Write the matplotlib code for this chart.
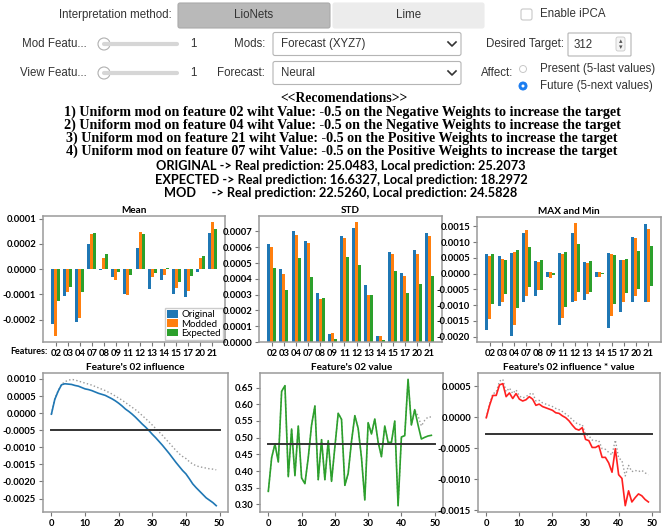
import numpy as np
import matplotlib.pyplot as plt
from matplotlib.patches import FancyBboxPatch, Circle
from matplotlib.ticker import FormatStrFormatter, FixedLocator, FixedFormatter

W, H = 662, 529

features = ['02', '03', '04', '07', '08', '09', '11', '12', '13', '14', '15', '17', '20', '21']

# mean (x 1e-4)
mean_original = [-2.17, -1.05, -2.10, 0.99, -0.03, -0.30, -0.99, 0.83, -0.79, -0.41, -0.99, -1.09, -0.10, 1.42]
mean_modded = [-2.66, -0.92, -1.93, 1.41, 0.46, -0.43, -1.01, 1.49, -0.30, -0.24, -0.75, -0.88, 0.46, 1.88]
mean_expected = [-1.25, -0.72, -0.92, 1.45, 0.62, -0.10, -0.24, 1.38, -0.17, 0.04, -0.49, -0.28, 0.53, 1.58]
mean_tick_pos = [2, 1, 0, -1, -2]
mean_tick_labels = ['0.0001', '0.0002', '0.0000', '-0.0001', '-0.0002']

# std (x 1e-4)
std_original = [6.2, 4.6, 7.0, 6.4, 3.1, 0.5, 6.7, 7.2, 3.6, 0.4, 5.7, 4.4, 5.8, 6.9]
std_modded = [6.0, 4.3, 6.8, 6.3, 2.7, 0.6, 6.6, 7.6, 3.0, 0.35, 5.6, 4.2, 5.6, 6.7]
std_expected = [4.7, 3.3, 5.3, 4.1, 2.8, 0.2, 5.4, 4.9, 3.0, 0.1, 4.5, 3.1, 3.7, 4.2]

# max / min (x 1e-3)
max_original = [0.62, 0.56, 0.67, 1.30, 0.39, 0.05, 0.66, 1.28, 0.37, 0.05, 0.65, 0.45, 1.15, 1.57]
min_original = [-1.78, -1.03, -1.99, -0.89, -0.70, -0.10, -1.62, -0.91, -0.84, -0.10, -1.73, -1.23, -0.91, -0.89]
max_modded = [0.55, 0.47, 0.70, 1.38, 0.37, 0.05, 0.63, 1.62, 0.34, 0.05, 0.62, 0.45, 1.12, 1.41]
min_modded = [-1.45, -0.91, -1.62, -0.71, -0.52, -0.13, -1.42, -0.87, -0.63, -0.09, -1.33, -0.91, -0.70, -0.89]
max_expected = [0.63, 0.44, 0.75, 0.84, 0.45, 0.01, 0.70, 0.94, 0.40, 0.01, 0.58, 0.46, 0.71, 0.89]
min_expected = [-0.97, -0.65, -1.08, -0.42, -0.52, -0.03, -1.05, -0.58, -0.58, -0.02, -0.96, -0.61, -0.49, -0.39]

# feature 02 influence (x 1e-3)
influence = [-0.03, 0.40, 0.64, 0.83, 0.86, 0.85, 0.84, 0.81, 0.79, 0.75,
             0.71, 0.69, 0.66, 0.62, 0.58, 0.55, 0.52, 0.47, 0.42, 0.36,
             0.29, 0.21, 0.12, 0.05, -0.03, -0.12, -0.22, -0.32, -0.41, -0.51,
             -0.62, -0.72, -0.83, -0.94, -1.06, -1.18, -1.31, -1.44, -1.56, -1.68,
             -1.78, -1.92, -2.07, -2.18, -2.28, -2.38, -2.48, -2.55, -2.62, -2.71]
influence_mod = [-0.03, 0.42, 0.66, 0.84, 0.92, 0.96, 0.99, 0.97, 0.94, 0.91,
                 0.88, 0.85, 0.82, 0.78, 0.74, 0.70, 0.66, 0.61, 0.56, 0.50,
                 0.44, 0.38, 0.31, 0.24, 0.17, 0.10, 0.02, -0.07, -0.16, -0.25,
                 -0.35, -0.45, -0.55, -0.65, -0.76, -0.87, -0.98, -1.09, -1.19, -1.27,
                 -1.33, -1.42, -1.49, -1.54, -1.57, -1.59, -1.61, -1.63, -1.64, -1.66]
influence_target = -0.5

# feature 02 value
value = [0.339, 0.440, 0.481, 0.427, 0.639, 0.656, 0.383, 0.526, 0.386, 0.535,
         0.379, 0.362, 0.440, 0.538, 0.595, 0.374, 0.494, 0.374, 0.491, 0.369,
         0.472, 0.573, 0.555, 0.357, 0.393, 0.489, 0.566, 0.528, 0.440, 0.313,
         0.545, 0.511, 0.556, 0.487, 0.443, 0.535, 0.486, 0.486, 0.550, 0.296,
         0.502, 0.506, 0.675, 0.538, 0.584, 0.538, 0.496, 0.501, 0.505, 0.507]
value_mod = value[:44] + [0.584, 0.565, 0.535, 0.552, 0.562, 0.562]
value_target = 0.482

# influence * value (x 1e-3)
infval = [-0.01, 0.19, 0.35, 0.35, 0.52, 0.54, 0.33, 0.39, 0.30, 0.38,
          0.29, 0.26, 0.28, 0.33, 0.29, 0.19, 0.21, 0.17, 0.15, 0.13,
          0.11, 0.07, 0.06, 0.02, -0.01, -0.06, -0.13, -0.19, -0.21, -0.17,
          -0.36, -0.38, -0.49, -0.49, -0.46, -0.65, -0.65, -0.74, -0.89, -0.51,
          -0.93, -0.99, -1.43, -1.19, -1.37, -1.30, -1.24, -1.27, -1.33, -1.37]
infval_mod = [-0.01, 0.21, 0.38, 0.40, 0.58, 0.61, 0.41, 0.47, 0.38, 0.44,
              0.34, 0.31, 0.33, 0.37, 0.39, 0.26, 0.27, 0.23, 0.21, 0.19,
              0.17, 0.14, 0.12, 0.09, 0.05, 0.01, -0.04, -0.09, -0.12, -0.12,
              -0.28, -0.30, -0.37, -0.38, -0.38, -0.51, -0.52, -0.57, -0.61, -0.37,
              -0.66, -0.70, -0.95, -0.78, -0.88, -0.86, -0.88, -0.86, -0.90, -0.93]
infval_target = -0.27

recommendations = [
    "1) Uniform mod on feature 02 wiht Value: -0.5 on the Negative Weights to increase the target",
    "2) Uniform mod on feature 04 wiht Value: -0.5 on the Negative Weights to increase the target",
    "3) Uniform mod on feature 21 wiht Value: -0.5 on the Positive Weights to increase the target",
    "4) Uniform mod on feature 07 wiht Value: -0.5 on the Positive Weights to increase the target",
]
predictions = [
    "ORIGINAL -> Real prediction: 25.0483, Local prediction: 25.2073",
    "EXPECTED -> Real prediction: 16.6327, Local prediction: 18.2972",
    "MOD     -> Real prediction: 22.5260, Local prediction: 24.5828",
]

GUI = '#333333'
TICKFONT = dict(family='Lato', weight='bold', size=6.8)

fig = plt.figure(figsize=(W / 100, H / 100), dpi=100)
fig.patch.set_facecolor('white')

# ---- GUI overlay drawn in pixel coordinates
ui = fig.add_axes([0, 0, 1, 1], zorder=-1)
ui.set_xlim(0, W)
ui.set_ylim(H, 0)
ui.axis('off')


def box(x0, y0, x1, y1, fc, ec, r=3, lw=0.8):
    ui.add_patch(FancyBboxPatch((x0, y0), x1 - x0, y1 - y0,
                                boxstyle=f"round,pad=0,rounding_size={r}",
                                fc=fc, ec=ec, lw=lw))


def label(x, y, s, ha='left', **kw):
    ui.text(x, y, s, ha=ha, va='center', family='Liberation Sans', size=8.3,
            color=kw.pop('color', GUI), **kw)


label(172, 15, "Interpretation method:", ha='right')
box(178, 3, 330, 28, '#b9b9b9', '#aaaaaa', r=2)
box(333, 3, 484, 28, '#ececec', '#ececec', r=2)
label(254, 15.5, "LioNets", ha='center')
label(409, 15.5, "Lime", ha='center')
box(521, 9, 532, 20, 'white', '#c8c8c8', r=2)
label(540, 14, "Enable iPCA")

for yc, name, lab, opt in [(44, "Mod Featu...", "Mods:", "Forecast (XYZ7)"),
                           (73, "View Featu...", "Forecast:", "Neural")]:
    label(87, yc, name, ha='right')
    ui.plot([104, 177], [yc, yc], color='#d6d6d6', lw=3, solid_capstyle='round')
    ui.add_patch(Circle((104, yc), 6, fc='white', ec='#b0b0b0', lw=0.8))
    label(193, yc, "1", ha='center')
    label(265, yc, lab, ha='right')
    box(273, yc - 11.5, 461, yc + 11.5, 'white', '#b5b5b5', r=2)
    label(281, yc, opt)
    ui.plot([448, 452, 456], [yc - 2, yc + 2, yc - 2], color='#333333', lw=1.2)

label(564, 44, "Desired Target:", ha='right')
box(568, 33, 631, 56, 'white', '#b5b5b5', r=1)
label(574, 44.5, "312")
box(616, 37, 625, 51, '#f4f4f4', '#c8c8c8', r=2, lw=0.6)
ui.text(620.5, 41.5, u"\u25b4", ha='center', va='center', size=5, color='#555555')
ui.text(620.5, 47, u"\u25be", ha='center', va='center', size=5, color='#555555')

label(513, 73, "Affect:", ha='right')
ui.add_patch(Circle((523, 69), 3.5, fc='white', ec='#c8c8c8', lw=0.7))
label(540, 69, "Present (5-last values)")
ui.add_patch(Circle((523, 86), 4, fc='#1a7cf0', ec='#1a7cf0', lw=0.7))
ui.add_patch(Circle((523, 86), 1.5, fc='white', ec='none'))
label(540, 86, "Future (5-next values)")

ui.text(344, 98, "<<Recomendations>>", ha='center', va='center',
        family='Liberation Serif', weight='bold', size=9.8)
for i, s in enumerate(recommendations):
    ui.text(342, 112 + 13.2 * i, s, ha='center', va='center',
            family='Liberation Serif', weight='bold', size=10.2)
for i, s in enumerate(predictions):
    ui.text(341, 166 + 13.5 * i, s, ha='center', va='center',
            family='Lato', weight='bold', size=9.2)
ui.text(10, 351, "Features:", ha='left', va='center',
        family='Lato', weight='bold', size=6.5)


# ---- chart axes
def px_axes(l, t, r, b):
    return fig.add_axes([l / W, 1 - b / H, (r - l) / W, (b - t) / H])


def style(ax, title):
    for sp in ax.spines.values():
        sp.set_color('#9a9a9a')
        sp.set_linewidth(1.1)
    ax.tick_params(length=3, width=0.8, color='#777777', pad=2)
    for t in ax.get_xticklabels() + ax.get_yticklabels():
        t.set_fontproperties(TICKFONT)
    ax.set_title(title, pad=2, family='Lato', weight='bold', size=7.2)


x = np.arange(len(features))
w = 0.25
colors = ['#1f77b4', '#ff7f0e', '#2ca02c']

ax1 = px_axes(43, 216, 225, 342)
for off, vals, c, lab in [(-w, mean_original, colors[0], 'Original'),
                          (0, mean_modded, colors[1], 'Modded'),
                          (w, mean_expected, colors[2], 'Expected')]:
    ax1.bar(x + off, vals, w, color=c, label=lab)
ax1.yaxis.set_major_locator(FixedLocator(mean_tick_pos))
ax1.yaxis.set_major_formatter(FixedFormatter(mean_tick_labels))
ax1.set_xticks(x)
ax1.set_xticklabels(features)
leg = ax1.legend(loc='lower right', prop=dict(family='Lato', size=7),
                 handlelength=1.1, handleheight=0.8, handletextpad=0.3,
                 borderpad=0.2, labelspacing=0.0, borderaxespad=0.25,
                 fancybox=False, edgecolor='#cccccc', framealpha=1)
style(ax1, "Mean")

ax2 = px_axes(259, 216, 442, 342)
for off, vals, c in [(-w, std_original, colors[0]), (0, std_modded, colors[1]),
                     (w, std_expected, colors[2])]:
    ax2.bar(x + off, np.array(vals) * 1e-4, w, color=c)
ax2.set_yticks(np.arange(0, 0.00075, 0.0001))
ax2.yaxis.set_major_formatter(FormatStrFormatter('%.4f'))
ax2.set_xticks(x)
ax2.set_xticklabels(features)
style(ax2, "STD")

ax3 = px_axes(477, 217, 661, 342)
for off, hi, lo, c in [(-w, max_original, min_original, colors[0]),
                       (0, max_modded, min_modded, colors[1]),
                       (w, max_expected, min_expected, colors[2])]:
    ax3.bar(x + off, np.array(hi) * 1e-3, w, color=c)
    ax3.bar(x + off, np.array(lo) * 1e-3, w, color=c)
ax3.set_yticks(np.arange(-0.002, 0.0016, 0.0005))
ax3.yaxis.set_major_formatter(FormatStrFormatter('%.4f'))
ax3.set_xticks(x)
ax3.set_xticklabels(features)
style(ax3, "MAX and Min")

t = np.arange(len(influence))

ax4 = px_axes(43, 373, 228, 512)
ax4.plot(t, np.array(influence_mod) * 1e-3, ':', color='#9a9a9a', lw=1)
ax4.plot(t, np.array(influence) * 1e-3, color='#1f77b4', lw=1.2)
ax4.plot([0, 50], [influence_target * 1e-3] * 2, color='#333333', lw=1.4)
ax4.set_xticks(range(0, 51, 10))
ax4.set_yticks(np.arange(-0.0025, 0.0011, 0.0005))
ax4.yaxis.set_major_formatter(FormatStrFormatter('%.4f'))
style(ax4, "Feature's 02 influence")

ax5 = px_axes(260, 373, 443, 512)
ax5.plot(t, value_mod, ':', color='#9a9a9a', lw=1)
ax5.plot(t, value, color='#2ca02c', lw=1.2)
ax5.plot([0, 50], [value_target] * 2, color='#333333', lw=1.4)
ax5.set_xticks(range(0, 51, 10))
ax5.set_yticks(np.arange(0.30, 0.651, 0.05))
ax5.yaxis.set_major_formatter(FormatStrFormatter('%.2f'))
style(ax5, "Feature's 02 value")

ax6 = px_axes(478, 373, 660, 512)
ax6.plot(t, np.array(infval_mod) * 1e-3, ':', color='#9a9a9a', lw=1)
ax6.plot(t, np.array(infval) * 1e-3, color='#ff2020', lw=1.2)
ax6.plot([0, 50], [infval_target * 1e-3] * 2, color='#333333', lw=1.4)
ax6.set_xticks(range(0, 51, 10))
ax6.set_yticks([0.0005, 0, -0.0005, -0.001, -0.0015])
ax6.yaxis.set_major_formatter(FormatStrFormatter('%.4f'))
style(ax6, "Feature's 02 influence * value")

fig.savefig('out.png', dpi=100)
